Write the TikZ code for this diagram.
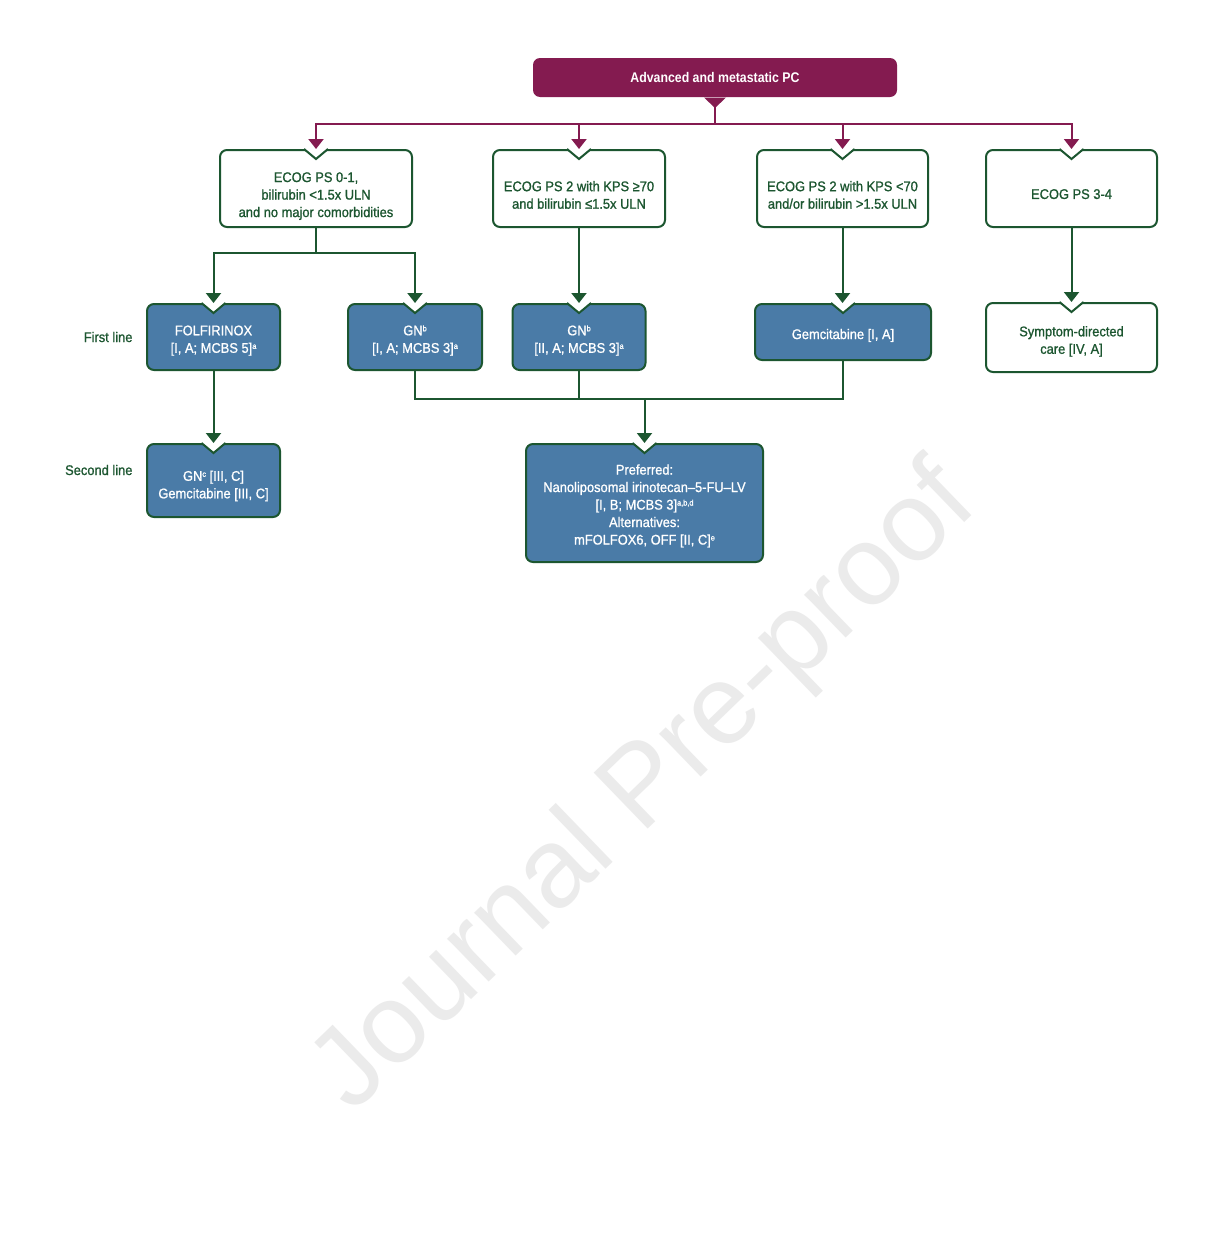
\documentclass[tikz,border=0pt]{standalone}
\usepackage{fontspec}
\setmainfont[FakeStretch=0.92,FakeBold=1,BoldFeatures={FakeStretch=0.88,FakeBold=0}]{Liberation Sans}
\newfontfamily\wmfont{Liberation Sans}
\usetikzlibrary{arrows.meta,positioning,calc}

\definecolor{plum}{RGB}{132,27,80}
\definecolor{pine}{RGB}{28,86,48}
\definecolor{steel}{RGB}{74,123,167}

\tikzset{
  box/.style={rounded corners=7pt, line width=2pt, align=center, inner sep=2pt,
    font=\fontsize{14}{17.5}\selectfont},
  whitebox/.style={box, draw=pine, fill=white, text=pine},
  bluebox/.style={box, draw=pine, fill=steel, text=white},
  headbox/.style={box, fill=plum, text=white, font=\bfseries\fontsize{14}{17}\selectfont},
  rowlabel/.style={anchor=east, text=pine, font=\fontsize{14}{17}\selectfont},
  plumline/.style={draw=plum, line width=2pt},
  pineline/.style={draw=pine, line width=2pt},
  plumarr/.style={plumline, -{Triangle[width=15pt,length=10pt]}},
  pinearr/.style={pineline, -{Triangle[width=15pt,length=10pt]}}
}

% extra room above the first line, pushes the text down in its box
\newcommand{\padtop}[1]{\rule{0pt}{#1}}
% small footnote marks
\newcommand{\fmark}[1]{\raisebox{4pt}{\fontsize{8}{8}\selectfont #1}}
% V shaped notch in the top edge of a box
\newcommand{\notchtop}[1]{%
  \fill[white] ($(#1.north)+(-13,-1.3)$) -- ($(#1.north)+(0,10)$) -- ($(#1.north)+(13,-1.3)$) -- cycle;
  \draw[pineline] ($(#1.north)+(-12,0)$) -- ($(#1.north)+(0,10)$) -- ($(#1.north)+(12,0)$);
}

\begin{document}
\begin{tikzpicture}[x=1pt,y=-1pt]
\useasboundingbox (0,0) rectangle (1224,1250);
\fill[white] (0,0) rectangle (1224,1250);

\node[rotate=44, text=black!8, font=\wmfont\fontsize{113}{113}\selectfont] (watermark) at (646,790) {Journal Pre-proof};

% header
\node[headbox, minimum width=364, minimum height=39] (top) at (715,77.5) {Advanced and metastatic PC};
\fill[plum] ($(top.south)+(-11,-0.5)$) -- ($(top.south)+(11,-0.5)$) -- ($(top.south)+(0,10)$) -- cycle;

% patient groups
\node[whitebox, minimum width=192, minimum height=77] (ps01) at (316,188.5)
  {\padtop{25pt}ECOG PS 0-1,\\ bilirubin <1.5x ULN\\ and no major comorbidities};
\node[whitebox, minimum width=172, minimum height=77] (ps2hi) at (579,188.5)
  {\padtop{23pt}ECOG PS 2 with KPS ≥70\\ and bilirubin ≤1.5x ULN};
\node[whitebox, minimum width=171, minimum height=77] (ps2lo) at (842.5,188.5)
  {\padtop{23pt}ECOG PS 2 with KPS <70\\ and/or bilirubin >1.5x ULN};
\node[whitebox, minimum width=171, minimum height=77] (ps34) at (1071.5,188.5)
  {\padtop{21pt}ECOG PS 3-4};

% first line
\node[rowlabel] (first) at (136,337) {First line};
\node[bluebox, minimum width=133, minimum height=66] (folfi) at (213.5,337)
  {\padtop{17pt}FOLFIRINOX\\ {[}I, A; MCBS 5]\fmark{a}};
\node[bluebox, minimum width=134, minimum height=66] (gnb) at (415,337)
  {\padtop{17pt}GN\fmark{b}\\ {[}I, A; MCBS 3]\fmark{a}};
\node[bluebox, minimum width=133, minimum height=66] (gnb2) at (579,337)
  {\padtop{17pt}GN\fmark{b}\\ {[}II, A; MCBS 3]\fmark{a}};
\node[bluebox, minimum width=176, minimum height=56] (gem) at (843,332)
  {\padtop{17pt}Gemcitabine [I, A]};
\node[whitebox, minimum width=171, minimum height=69] (care) at (1071.5,337.5)
  {\padtop{18pt}Symptom-directed\\ care [IV, A]};

% second line
\node[rowlabel] (second) at (136,470) {Second line};
\node[bluebox, minimum width=133, minimum height=73] (gnc) at (213.5,480.5)
  {\padtop{21pt}GN\fmark{c} [III, C]\\ Gemcitabine [III, C]};
\node[bluebox, minimum width=237, minimum height=118] (pref) at (644.5,503)
  {\padtop{16pt}Preferred:\\ Nanoliposomal irinotecan–5-FU–LV\\ {[}I, B; MCBS 3]\fmark{a,b,d}\\
   Alternatives:\\ mFOLFOX6, OFF [II, C]\fmark{e}};

\foreach \n in {ps01,ps2hi,ps2lo,ps34,folfi,gnb,gnb2,gem,care,gnc,pref}
  {\notchtop{\n}}

% connectors
\coordinate (pbus) at ($(top.south)+(0,26)$);
\draw[plumline] (top.south) -- (pbus);
\foreach \n in {ps01,ps2hi,ps2lo,ps34}
  \draw[plumarr] (pbus) -| (\n.north);

\coordinate (gbus) at ($(ps01.south)+(0,25)$);
\draw[pineline] (ps01.south) -- (gbus);
\draw[pinearr] (gbus) -| (folfi.north);
\draw[pinearr] (gbus) -| (gnb.north);
\draw[pinearr] (ps2hi.south) -- (gnb2.north);
\draw[pinearr] (ps2lo.south) -- (ps2lo.south |- gem.north);
\draw[pinearr] (ps34.south) -- (care.north);
\draw[pinearr] (folfi.south) -- (gnc.north);

\coordinate (sbus) at ($(gnb.south)+(0,28)$);
\draw[pineline] (gnb.south) -- (sbus) -| (gem.south);
\draw[pineline] (gnb2.south) -- (gnb2.south |- sbus);
\draw[pinearr] (pref.north |- sbus) -- (pref.north);
\end{tikzpicture}
\end{document}
